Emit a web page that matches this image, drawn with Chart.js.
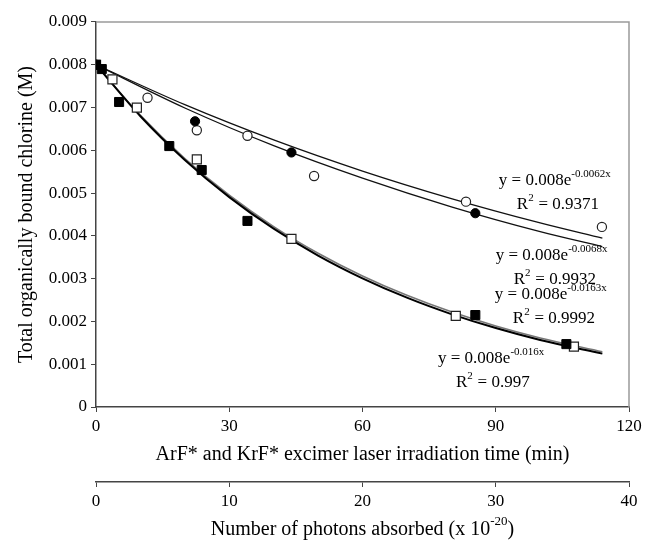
<!DOCTYPE html>
<html>
<head>
<meta charset="utf-8">
<script src="https://cdn.jsdelivr.net/npm/chart.js@4.4.1/dist/chart.umd.min.js"></script>
<style>
  html, body { margin: 0; padding: 0; background: #fff; }
  #wrap { width: 648px; height: 545px; }
</style>
</head>
<body>
<div id="wrap"><canvas id="cchart"></canvas></div>
<script>
// measured points (time in min, concentration in M)
const filledSqX = [0, 1.3, 5.2, 16.5, 23.8, 34.1, 85.4, 105.9];
const filledSqY = [0.0080, 0.0079, 0.00713, 0.0061, 0.00554, 0.00435, 0.00215, 0.00147];
const openSqX = [0, 3.7, 9.2, 22.7, 44.0, 81.0, 107.6];
const openSqY = [0.0080, 0.00766, 0.0070, 0.00579, 0.00393, 0.00213, 0.00141];
const filledCirX = [0, 22.3, 44.0, 85.4];
const filledCirY = [0.0080, 0.00668, 0.00595, 0.00453];
const openCirX = [0, 11.6, 22.7, 34.1, 49.1, 83.3, 113.9];
const openCirY = [0.0080, 0.00723, 0.00647, 0.00634, 0.0054, 0.0048, 0.00421];

// trend lines
const fitSlowX = [0, 20, 40, 60, 80, 100, 114];
const fit0062Y = [0.0080, 0.007067, 0.006243, 0.005515, 0.004872, 0.004303, 0.003946];
const fit0068Y = [0.0080, 0.00699, 0.00611, 0.00535, 0.00468, 0.00410, 0.00375];
const fitFastX = [0, 10, 20, 30, 40, 50, 60, 70, 80, 90, 100, 114];
const fit0163Y = [0.0080, 0.006797, 0.005775, 0.004906, 0.004168, 0.003541, 0.003009, 0.002556, 0.002172, 0.001845, 0.001567, 0.001248];
const fit016Y = [0.0080, 0.006817, 0.005809, 0.004950, 0.004218, 0.003595, 0.003063, 0.002610, 0.002224, 0.001895, 0.001615, 0.001291];

const yTickLabels = ['0', '0.001', '0.002', '0.003', '0.004', '0.005', '0.006', '0.007', '0.008', '0.009'];
const timeTicks = [0, 30, 60, 90, 120];
const photonTicks = [0, 10, 20, 30, 40];

const fitLabels = [
  { x: 90.7, y: 0.00530, eq: '-0.0062x', r2: '0.9371' },
  { x: 90.0, y: 0.00355, eq: '-0.0068x', r2: '0.9932' },
  { x: 89.8, y: 0.00264, eq: '-0.0163x', r2: '0.9992' },
  { x: 77.0, y: 0.00114, eq: '-0.016x', r2: '0.997' },
];

const pts = (xs, ys) => xs.map((x, i) => ({ x: x, y: ys[i] }));
const serif = '"Liberation Serif", "Times New Roman", serif';

const frame = {
  id: 'frame',
  beforeDatasetsDraw(c) {
    const a = c.chartArea, ctx = c.ctx;
    ctx.save();
    ctx.strokeStyle = '#9a9a9a';
    ctx.lineWidth = 1.5;
    ctx.beginPath();
    ctx.moveTo(a.left, a.top);
    ctx.lineTo(a.right, a.top);
    ctx.lineTo(a.right, a.bottom);
    ctx.stroke();
    ctx.restore();
  },
  afterDraw(c) {
    const ctx = c.ctx, sx = c.scales.x, sy = c.scales.y;
    ctx.save();
    ctx.fillStyle = '#000';
    ctx.textBaseline = 'middle';
    ctx.textAlign = 'left';
    fitLabels.forEach(l => {
      let px = sx.getPixelForValue(l.x), py = sy.getPixelForValue(l.y);
      ctx.font = '17px ' + serif;
      ctx.fillText('y = 0.008e', px, py);
      let w = ctx.measureText('y = 0.008e').width;
      ctx.font = '11px ' + serif;
      ctx.fillText(l.eq, px + w, py - 6);
      let ry = py + 24, rx = px + 18;
      ctx.font = '17px ' + serif;
      ctx.fillText('R', rx, ry);
      w = ctx.measureText('R').width;
      ctx.font = '11px ' + serif;
      ctx.fillText('2', rx + w, ry - 6);
      ctx.font = '17px ' + serif;
      ctx.fillText(' = ' + l.r2, rx + w + 6, ry);
    });
    // photon axis title with superscript
    const a = c.chartArea;
    const cx = (a.left + a.right) / 2, cy = 530;
    const t1 = 'Number of photons absorbed (x 10', t3 = ')';
    ctx.font = '13px ' + serif;
    const wSup = ctx.measureText('-20').width;
    ctx.font = '20px ' + serif;
    const w1 = ctx.measureText(t1).width, w3 = ctx.measureText(t3).width;
    let x0 = cx - (w1 + wSup + w3) / 2;
    ctx.fillText(t1, x0, cy);
    ctx.font = '13px ' + serif;
    ctx.fillText('-20', x0 + w1, cy - 8);
    ctx.font = '20px ' + serif;
    ctx.fillText(t3, x0 + w1 + wSup, cy);
    ctx.restore();
  }
};

const fitLine = (data, color, width) => ({
  data: data,
  showLine: true,
  borderColor: color,
  borderWidth: width,
  pointRadius: 0,
  fill: false,
  cubicInterpolationMode: 'monotone',
});

const ctx = document.getElementById('cchart');
new Chart(ctx, {
  type: 'scatter',
  data: {
    datasets: [
      { data: pts(filledSqX, filledSqY), pointStyle: 'rect', pointRadius: 6.4, backgroundColor: '#000', borderColor: '#000', borderWidth: 1 },
      { data: pts(openSqX, openSqY), pointStyle: 'rect', pointRadius: 6.4, backgroundColor: '#fff', borderColor: '#222', borderWidth: 1.2 },
      { data: pts(filledCirX, filledCirY), pointStyle: 'circle', pointRadius: 4.6, backgroundColor: '#000', borderColor: '#000', borderWidth: 1 },
      { data: pts(openCirX, openCirY), pointStyle: 'circle', pointRadius: 4.6, backgroundColor: '#fff', borderColor: '#222', borderWidth: 1.2 },
      fitLine(pts(fitSlowX, fit0062Y), '#111', 1.3),
      fitLine(pts(fitSlowX, fit0068Y), '#111', 1.3),
      fitLine(pts(fitFastX, fit0163Y), '#000', 2),
      fitLine(pts(fitFastX, fit016Y), '#777', 1.6),
    ],
  },
  plugins: [frame],
  options: {
    responsive: true,
    maintainAspectRatio: false,
    animation: false,
    layout: { padding: { top: 22, right: 19, bottom: 3, left: 0 } },
    plugins: { legend: { display: false }, tooltip: { enabled: false } },
    scales: {
      x: {
        type: 'linear',
        position: 'bottom',
        min: 0, max: 120,
        afterBuildTicks: s => { s.ticks = timeTicks.map(v => ({ value: v })); },
        afterFit: s => { s.height = 75; },
        ticks: { color: '#000', padding: 4, font: { family: serif, size: 17 } },
        grid: { drawOnChartArea: false, drawTicks: true, tickLength: 5, color: '#444' },
        border: { color: '#444', width: 1.5 },
        title: {
          display: true, text: 'ArF* and KrF* excimer laser irradiation time (min)',
          color: '#000', font: { family: serif, size: 20 }, padding: { top: 6.6, bottom: 15 },
        },
      },
      x2: {
        type: 'linear',
        position: 'bottom',
        weight: 1,
        min: 0, max: 40,
        afterBuildTicks: s => { s.ticks = photonTicks.map(v => ({ value: v })); },
        afterFit: s => { s.height = 60; },
        ticks: { color: '#000', padding: 4, font: { family: serif, size: 17 } },
        grid: { drawOnChartArea: false, drawTicks: true, tickLength: 5, color: '#444' },
        border: { color: '#444', width: 1.5 },
        title: { display: false },
      },
      y: {
        min: 0, max: 0.009,
        afterBuildTicks: s => { s.ticks = yTickLabels.map((t, i) => ({ value: i * 0.001 })); },
        afterFit: s => { s.width = 96; },
        ticks: {
          color: '#000', padding: 4, font: { family: serif, size: 17 },
          callback: (v, i) => yTickLabels[i],
        },
        grid: { drawOnChartArea: false, drawTicks: true, tickLength: 5, color: '#444' },
        border: { color: '#444', width: 1.5 },
        title: {
          display: true, text: 'Total organically bound chlorine (M)',
          color: '#000', font: { family: serif, size: 20 }, padding: { top: 15, bottom: 0 },
        },
      },
    },
  },
});
</script>
</body>
</html>
